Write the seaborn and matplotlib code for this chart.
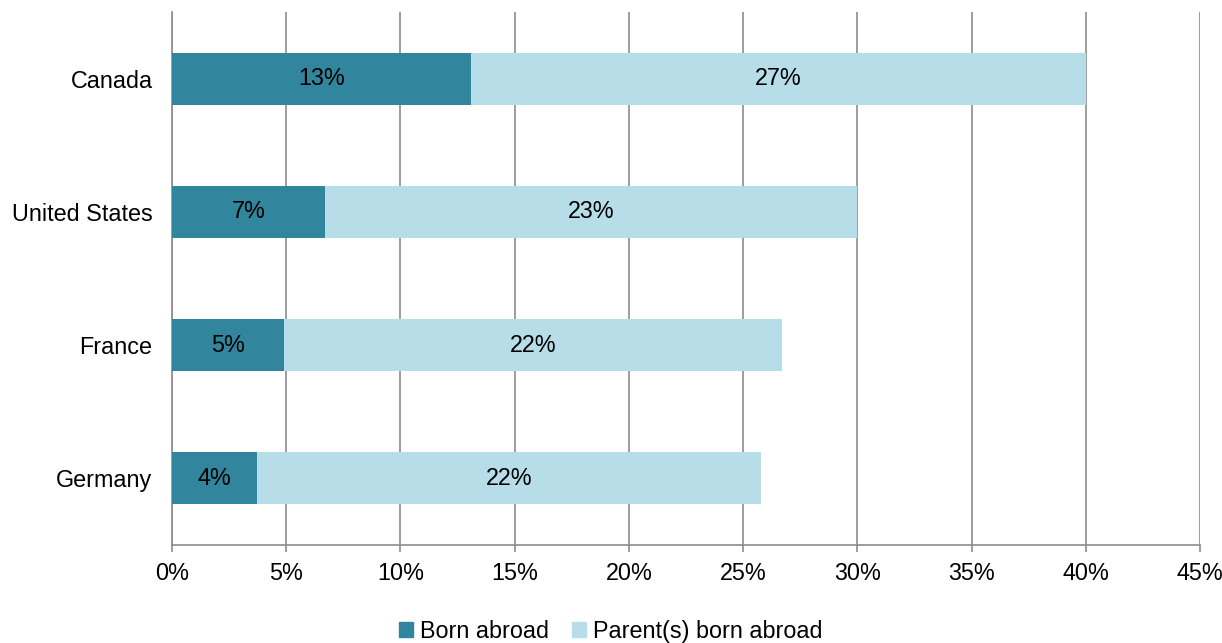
import numpy as np
import pandas as pd
import seaborn as sns
import matplotlib.pyplot as plt
from matplotlib.patches import Patch

# data
countries = ['Canada', 'United States', 'France', 'Germany']
born_abroad = [13.1, 6.7, 4.9, 3.7]
parent_abroad = [26.9, 23.3, 21.8, 22.1]
xticks = np.arange(0, 50, 5)

dark = '#31859C'
light = '#B7DEE8'
grid_c = '#8c8c8c'
fs = 16.8

df = pd.DataFrame({'country': countries,
                   'born': born_abroad,
                   'parent': parent_abroad})
df['total'] = df['born'] + df['parent']

sns.set_style('white')
plt.rcParams['font.family'] = ['Liberation Sans', 'DejaVu Sans']
plt.rcParams['text.color'] = 'black'
plt.rcParams['xtick.labelcolor'] = 'black'
plt.rcParams['ytick.labelcolor'] = 'black'

fig = plt.figure(figsize=(12.22, 6.43), dpi=100)
ax = fig.add_axes([0.1408, 0.1524, 0.8412, 0.8289])

# stacked bars: total in light, born abroad on top in dark
sns.barplot(data=df, y='country', x='total', color=light, order=countries,
            width=0.39, saturation=1, linewidth=0, ax=ax, zorder=2)
sns.barplot(data=df, y='country', x='born', color=dark, order=countries,
            width=0.39, saturation=1, linewidth=0, ax=ax, zorder=3)

# segment labels
for i, row in df.iterrows():
    ax.text(row['born'] / 2, i, f"{row['born']:.0f}%", ha='center', va='center',
            fontsize=fs, color='black', zorder=4)
    ax.text(row['born'] + row['parent'] / 2, i, f"{row['parent']:.0f}%",
            ha='center', va='center', fontsize=fs, color='black', zorder=4)

# style the plot
ax.set_xlim(0, 45)
ax.set_ylim(3.5, -0.5)
ax.set_xticks(xticks)
ax.set_xticklabels([f'{t}%' for t in xticks])
ax.xaxis.grid(True, color=grid_c, linewidth=1.2, zorder=0)
ax.set_axisbelow(True)
ax.tick_params(axis='x', labelsize=fs, length=5, width=1.2, color=grid_c,
               labelcolor='black', bottom=True, pad=7)
ax.tick_params(axis='y', labelsize=fs, length=0, labelcolor='black', pad=14)
ax.set_xlabel('')
ax.set_ylabel('')
for side in ['top', 'right']:
    ax.spines[side].set_visible(False)
for side in ['left', 'bottom']:
    ax.spines[side].set_color(grid_c)
    ax.spines[side].set_linewidth(1.2)

# legend
handles = [Patch(color=dark, label='Born abroad'),
           Patch(color=light, label='Parent(s) born abroad')]
fig.legend(handles=handles, loc='center', bbox_to_anchor=(0.5, 0.018), ncol=2,
           frameon=False, fontsize=fs, handlelength=0.6, handleheight=0.6,
           handletextpad=0.3, columnspacing=1.0, labelcolor='black')

fig.savefig('out.png', dpi=100)
